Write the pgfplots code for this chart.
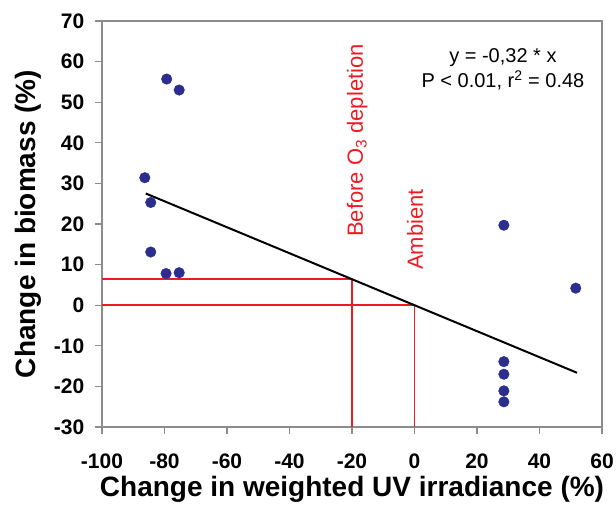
\documentclass[border=0pt]{standalone}
\usepackage{pgfplots}
\pgfplotsset{compat=1.18}
\usepackage{fontspec}
\setmainfont{Liberation Sans}
\definecolor{dotblue}{RGB}{44,46,141}
\definecolor{lred}{RGB}{237,28,36}
\definecolor{spine}{RGB}{140,140,140}
\begin{document}
\begin{tikzpicture}
\begin{axis}[
  name=ax,
  scale only axis, width=500pt, height=406pt,
  xmin=-100, xmax=60, ymin=-30, ymax=70,
  xtick={-100,-80,-60,-40,-20,0,20,40,60},
  ytick={-30,-20,-10,0,10,20,30,40,50,60,70},
  xticklabels={-100,-80,-60,-40,-20,0,20,40,60},
  yticklabels={-30,-20,-10,0,10,20,30,40,50,60,70},
  tick pos=left, tick align=outside,
  major tick length=6.5pt,
  every tick/.style={spine, line width=1.2pt},
  axis line style={spine, line width=1.2pt},
  tick label style={font=\fontsize{21}{24}\selectfont\bfseries, inner sep=0pt, text=black},
  xticklabel style={anchor=north, yshift=-20pt},
  yticklabel style={anchor=east, xshift=-11pt},
  xlabel={Change in weighted UV irradiance (\%)},
  ylabel={Change in biomass (\%)},
  xlabel style={font=\fontsize{28}{32}\selectfont\bfseries, at={(axis description cs:0.5,-0.17)}, anchor=base},
  ylabel style={font=\fontsize{28}{32}\selectfont\bfseries, at={(axis description cs:-0.132,0.5)}, anchor=base},
]
\addplot[draw=lred, line width=1.8pt] coordinates {(-100,6.4) (-20,6.4)};
\addplot[draw=lred, line width=1.5pt] coordinates {(-20,6.4) (-20,-30)};
\addplot[draw=lred, line width=1.8pt] coordinates {(-100,0) (0,0)};
\addplot[draw=lred, line width=1.5pt] coordinates {(0,0) (0,-30)};
\addplot[black, line width=2pt] coordinates {(-86,27.52) (52,-16.64)};
\addplot[only marks, mark=*, mark size=5.3pt, mark options={fill=dotblue, draw=dotblue}] coordinates {
  (-79.3,55.7) (-75.3,53.0) (-86.3,31.4) (-84.4,25.3) (-84.4,13.1)
  (-79.5,7.8) (-75.3,8.0) (28.6,19.7) (51.6,4.2)
  (28.6,-13.9) (28.6,-17.0) (28.6,-21.1) (28.6,-23.8)};
\node[font=\fontsize{20}{24}\selectfont, anchor=base, inner sep=0pt] at (axis cs:28.3,59.9) {y = -0,32 * x};
\node[font=\fontsize{20}{24}\selectfont, anchor=base, inner sep=0pt] at (axis cs:28.3,53.5) {P < 0.01, r\textsuperscript{2} = 0.48};
\node[font=\fontsize{22}{26}\selectfont, text=lred, rotate=90, anchor=base west, inner sep=0pt] at (axis cs:-16.5,16.8) {Before O\textsubscript{3} depletion};
\node[font=\fontsize{22}{26}\selectfont, text=lred, rotate=90, anchor=base west, inner sep=0pt] at (axis cs:2.7,8.7) {Ambient};
\end{axis}
\pgfresetboundingbox
\path (ax.south west) ++(-102pt,-84pt) rectangle ([shift={(14pt,21pt)}]ax.north east);
\end{tikzpicture}
\end{document}
